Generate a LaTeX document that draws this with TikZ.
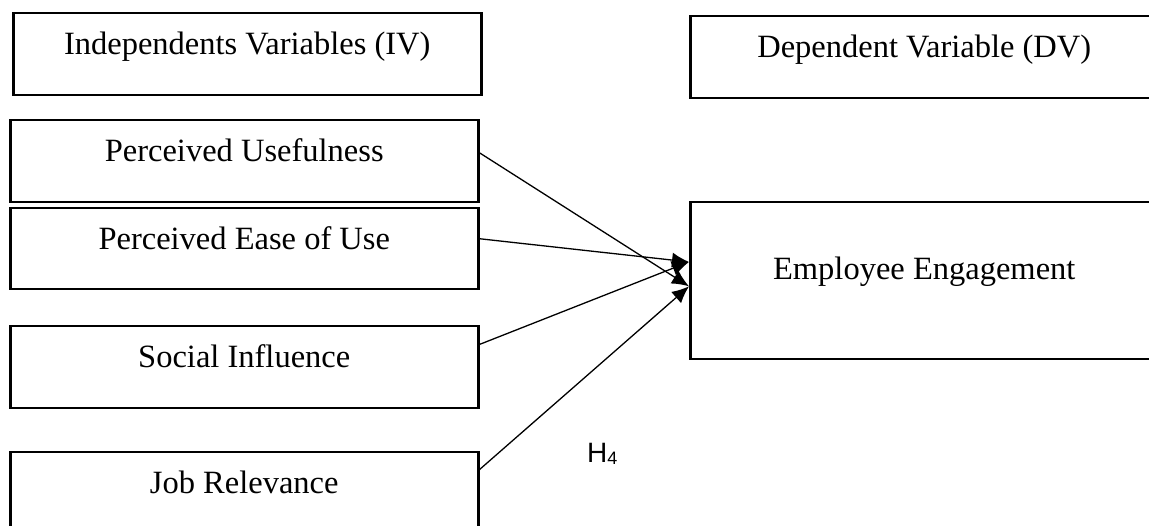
\documentclass[tikz,border=0pt]{standalone}
\usepackage{fontspec}
\setmainfont{Liberation Serif}
\newfontfamily\hsans{Liberation Sans}
\usetikzlibrary{arrows.meta,calc}
\tikzset{
  varbox/.style={draw, line width=2.5pt, inner sep=0pt, anchor=north west,
    minimum width=468pt, text height=41pt, text depth=41pt,
    font=\fontsize{32.5}{38}\selectfont},
  link/.style={line width=1.3pt, -{Latex[length=17pt,width=15pt]}}
}
\begin{document}
\begin{tikzpicture}[x=1pt,y=-1pt]
\useasboundingbox (0,0) rectangle (1149,526);
\clip (0,0) rectangle (1149,526);
\fill[white] (0,0) rectangle (1149,526);
\node[varbox] (iv) at (12,12) {Independents Variables (IV)};
\node[varbox] (dv) at (689,15) {Dependent Variable (DV)};
\node[varbox] (pu) at (9,119) {Perceived Usefulness};
\node[varbox, text depth=40pt] (peu) at (9,207) {Perceived Ease of Use};
\node[varbox] (si) at (9,325) {Social Influence};
\node[varbox] (jr) at (9,451) {Job Relevance};
\node[varbox, text height=77pt, text depth=80pt] (ee) at (689,201) {Employee Engagement};
\coordinate (eeA) at ($(ee.north west)!0.382!(ee.south west)$);
\coordinate (eeB) at ($(ee.north west)!0.535!(ee.south west)$);
\draw[link] ($(pu.north east)!0.40!(pu.south east)$) -- (eeB);
\draw[link] ($(peu.north east)!0.38!(peu.south east)$) -- (eeA);
\draw[link] ($(si.north east)!0.23!(si.south east)$) -- (eeA);
\draw[link] ($(jr.north east)!0.22!(jr.south east)$) -- (eeB);
\node[anchor=base west, inner sep=0pt, font=\hsans\fontsize{28}{30}\selectfont] (h4) at (587,463) {H\raisebox{-1.5pt}{\fontsize{18}{18}\selectfont 4}};
\end{tikzpicture}
\end{document}
